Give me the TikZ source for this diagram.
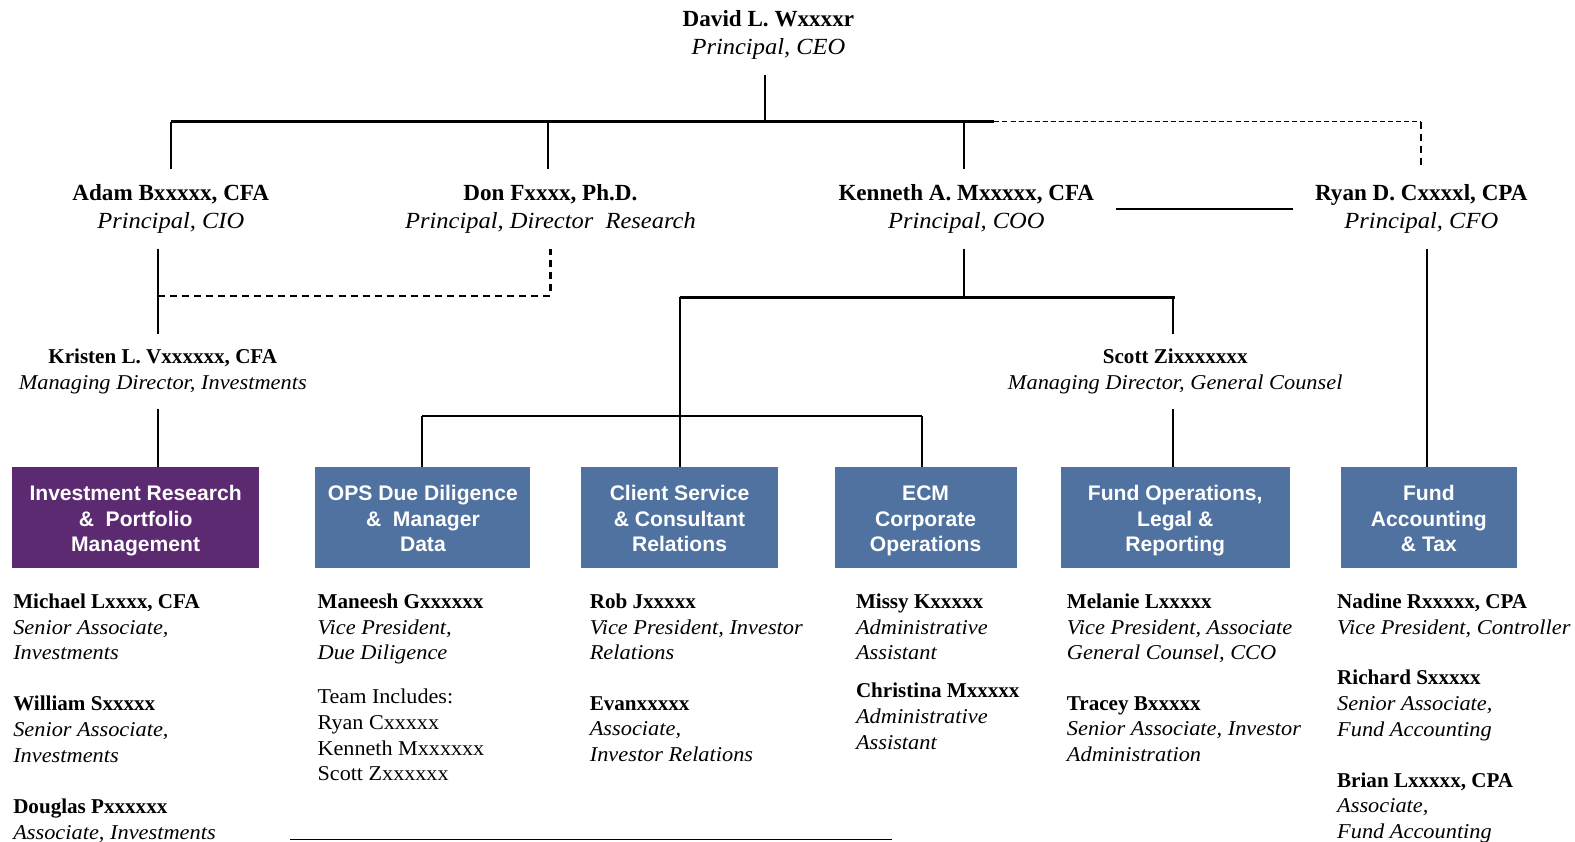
\documentclass[tikz,border=0pt]{standalone}
\usepackage{fontspec}
\setmainfont{Liberation Serif}[UprightFeatures={FakeStretch=1.05}, ItalicFeatures={FakeStretch=1.06}]
\newfontfamily\boxfont{Liberation Sans}
\definecolor{irpurple}{RGB}{92,42,112}
\definecolor{deptblue}{RGB}{80,114,160}
\newcommand{\deptop}{\rule{0pt}{22pt}}
\newcommand{\deptbot}{\vphantom{g}}
\begin{document}
\begin{tikzpicture}[x=1pt,y=-1pt,
  person/.style={align=center, inner xsep=0pt, inner ysep=15pt, font=\fontsize{23}{28}\selectfont},
  mgr/.style={person, font=\fontsize{21}{25.5}\selectfont},
  dept/.style={fill=deptblue, text=white, font=\boxfont\bfseries\fontsize{21}{25.5}\selectfont, align=center, minimum height=100pt, inner sep=0pt},
  staff/.style={anchor=north west, align=left, inner sep=0pt, font=\fontsize{21}{25.5}\selectfont},
  conn/.style={line width=2pt},
  bar/.style={line width=2.6pt},
  dotline/.style={line width=1.4pt, dash pattern=on 5pt off 3pt},
  dashline/.style={line width=2.2pt, dash pattern=on 7pt off 5pt}]
\fill[white] (0,0) rectangle (1568,838);
\useasboundingbox (0,0) rectangle (1568,838);

% people
\node[person] (david) at (765,35) {\textbf{David L. Wxxxxr}\\\textit{Principal, CEO}};
\node[person] (adam) at (170,208) {\textbf{Adam Bxxxxx, CFA}\\\textit{Principal, CIO}};
\node[person] (don) at (548,208) {\textbf{Don Fxxxx, Ph.D.}\\\textit{Principal, Director\ \ Research}};
\node[person] (ken) at (962,208) {\textbf{Kenneth A. Mxxxxx, CFA}\\\textit{Principal, COO}};
\node[person] (ryan) at (1415,208) {\textbf{Ryan D. Cxxxxl, CPA}\\\textit{Principal, CFO}};
\node[mgr] (kristen) at (162,370) {\textbf{Kristen L. Vxxxxxx, CFA}\\\textit{Managing Director, Investments}};
\node[mgr] (scott) at (1170,370) {\textbf{Scott Zixxxxxxx}\\\textit{Managing Director, General Counsel}};

% departments
\node[dept, fill=irpurple, minimum width=246pt] (ir) at (135,515) {\deptop Investment Research\\\&~~Portfolio\\Management\deptbot};
\node[dept, minimum width=214pt] (ops) at (421,515) {\deptop OPS Due Diligence\\\&~~Manager\\Data\deptbot};
\node[dept, minimum width=197pt] (cs) at (676.5,515) {\deptop Client Service\\\& Consultant\\Relations\deptbot};
\node[dept, minimum width=181pt] (ecm) at (921.5,515) {\deptop ECM\\Corporate\\Operations\deptbot};
\node[dept, minimum width=228pt] (fo) at (1170,515) {\deptop Fund Operations,\\Legal \&\\Reporting\deptbot};
\node[dept, minimum width=175pt] (fa) at (1422.5,515) {\deptop Fund\\Accounting\\\& Tax\deptbot};

% staff
\node[staff] (michael) at (13,591) {\textbf{Michael Lxxxx, CFA}\\\textit{Senior Associate,}\\\textit{Investments}};
\node[staff] (william) at (13,693) {\textbf{William Sxxxxx}\\\textit{Senior Associate,}\\\textit{Investments}};
\node[staff] (douglas) at (13,795) {\textbf{Douglas Pxxxxxx}\\\textit{Associate, Investments}};
\node[staff] (maneesh) at (316,591) {\textbf{Maneesh Gxxxxxx}\\\textit{Vice President,}\\\textit{Due Diligence}};
\node[staff] (team) at (316,686) {Team Includes:\\Ryan Cxxxxx\\Kenneth Mxxxxxx\\Scott Zxxxxxx};
\node[staff] (rob) at (587,591) {\textbf{Rob Jxxxxx}\\\textit{Vice President, Investor}\\\textit{Relations}};
\node[staff] (evan) at (587,693) {\textbf{Evanxxxxx}\\\textit{Associate,}\\\textit{Investor Relations}};
\node[staff] (missy) at (852,591) {\textbf{Missy Kxxxxx}\\\textit{Administrative}\\\textit{Assistant}};
\node[staff] (christina) at (852,680) {\textbf{Christina Mxxxxx}\\\textit{Administrative}\\\textit{Assistant}};
\node[staff] (melanie) at (1062,591) {\textbf{Melanie Lxxxxx}\\\textit{Vice President, Associate}\\\textit{General Counsel, CCO}};
\node[staff] (tracey) at (1062,693) {\textbf{Tracey Bxxxxx}\\\textit{Senior Associate, Investor}\\\textit{Administration}};
\node[staff] (nadine) at (1331,591) {\textbf{Nadine Rxxxxx, CPA}\\\textit{Vice President, Controller}};
\node[staff] (richard) at (1331,667) {\textbf{Richard Sxxxxx}\\\textit{Senior Associate,}\\\textit{Fund Accounting}};
\node[staff] (brian) at (1331,769) {\textbf{Brian Lxxxxx, CPA}\\\textit{Associate,}\\\textit{Fund Accounting}};

% helper coordinates
\coordinate (tbar) at (0,121);
\coordinate (tbend) at (990,121);
\coordinate (ax) at (157,0);
\coordinate (dy) at (0,295);
\coordinate (ky) at (0,296);
\coordinate (sy) at (0,414);
\coordinate (bl1) at (289,836);
\coordinate (bl2) at (888,836);

% top level
\draw[conn] ([xshift=-3pt]david.south) -- ([xshift=-3pt]david.south |- tbar);
\draw[bar] (adam.north |- tbar) -- (tbend);
\draw[conn] (adam.north |- tbar) -- (adam.north);
\draw[conn] ([xshift=-2pt]don.north |- tbar) -- ([xshift=-2pt]don.north);
\draw[conn] ([xshift=-2pt]ken.north |- tbar) -- ([xshift=-2pt]ken.north);
\draw[dotline] (tbend) -- (ryan.north |- tbend);
\draw[dashline] (ryan.north |- tbend) -- (ryan.north);
\draw[line width=1.5pt] ([xshift=22pt]ken.east) -- ([xshift=-22pt]ryan.west);

% investments
\draw[conn] (ax |- adam.south) -- (ax |- kristen.north);
\draw[conn] (ax |- kristen.south) -- (ax |- ir.north);
\draw[dashline] (ax |- dy) -| (don.south);

% operations
\draw[conn] ([xshift=-2pt]ken.south) -- ([xshift=-2pt]ken.south |- ky);
\draw[bar] (cs.north |- ky) -- (scott.north |- ky);
\draw[conn] (cs.north |- ky) -- (cs.north);
\draw[conn] ([xshift=-2pt]scott.north |- ky) -- ([xshift=-2pt]scott.north);
\draw[conn] ([xshift=-2pt]scott.south) -- ([xshift=-2pt]scott.south |- fo.north);
\draw[bar] ([xshift=-1pt]ops.north |- sy) -- ([xshift=-4pt]ecm.north |- sy);
\draw[conn] ([xshift=-1pt]ops.north |- sy) -- ([xshift=-1pt]ops.north);
\draw[conn] ([xshift=-4pt]ecm.north |- sy) -- ([xshift=-4pt]ecm.north);

% finance
\draw[conn] ([xshift=-1.5pt]fa.north |- ryan.south) -- ([xshift=-1.5pt]fa.north);

% bottom rule
\draw[line width=1.5pt] (bl1) -- (bl2);
\end{tikzpicture}
\end{document}
